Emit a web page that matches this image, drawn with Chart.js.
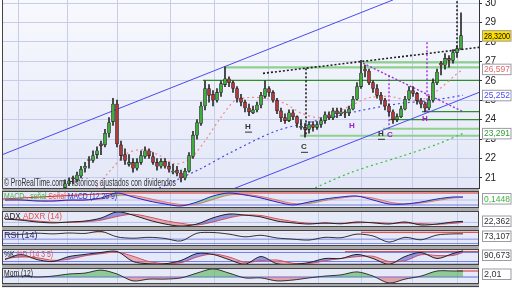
<!DOCTYPE html>
<html><head><meta charset="utf-8">
<script src="https://cdn.jsdelivr.net/npm/chart.js@4.4.1/dist/chart.umd.min.js"></script>
<style>
html,body{margin:0;padding:0;background:#fff;}
#wrap{position:relative;width:512px;height:288px;overflow:hidden;background:#fff;}
#gap{position:absolute;left:2px;top:188px;width:477px;height:100px;background:#a9a9a9;}
#last{position:absolute;left:2px;top:286px;width:477px;height:2px;background:#e6e9f8;border-top:1px solid #444;}
canvas{position:absolute;left:0;}
</style></head>
<body><div id="wrap"><div id="gap"></div><div id="last"></div>
<canvas id="cMain" width="512" height="189" style="top:0px"></canvas>
<canvas id="cMacd" width="512" height="17" style="top:191px"></canvas>
<canvas id="cAdx" width="512" height="16" style="top:211px"></canvas>
<canvas id="cRsi" width="512" height="16" style="top:230px"></canvas>
<canvas id="cSto" width="512" height="16" style="top:249px"></canvas>
<canvas id="cMom" width="512" height="16" style="top:268px"></canvas>
</div>
<script>
// ---------------- DATA ----------------
const candleOpen  = [20.5,20.7,21.0,20.9,21.1,21.5,21.95,21.9,22.2,22.75, 22.7,23.3,23.9,24.8,22.7,22.2,21.7,21.8,21.5,21.8, 22.1,22.4,22.1,21.8,21.6,21.85,21.6,21.3,21.4,21.25, 21.0,21.35,22.1,23.2,23.8,24.7,25.6,25.3,25.0,25.4, 25.8,26.1,25.9,25.6,25.1,24.9,24.6,24.35,24.5,24.75, 25.2,25.6,25.4,25.0,24.45,24.1,23.95,24.35,24.15,23.6, 23.6,23.5,23.75,23.6,23.75,23.95,24.25,24.1,24.45,24.3, 24.4,24.35,24.55,25.05,25.7,26.6,26.5,25.9,25.6,25.25, 25.0,24.7,24.4,24.0,24.15,24.55,25.05,25.5,25.35,24.98, 24.8,24.6,25.0,25.9,26.9,26.8,27.15,27.05,27.45,27.65];
const candleHigh  = [20.9,21.0,21.1,21.3,21.6,21.8,22.1,22.4,22.6,22.9, 23.5,24.1,25.1,25.0,22.9,22.5,22.2,22.0,22.0,22.4, 22.6,22.5,22.3,22.0,22.0,22.0,21.8,21.7,21.6,21.4, 21.5,22.3,23.4,24.0,24.9,26.0,25.8,25.5,25.6,26.0, 26.7,26.2,26.0,25.7,25.3,25.0,24.8,24.7,24.9,25.4, 26.0,25.7,25.5,25.1,24.6,24.3,24.5,24.5,24.2,24.0, 23.8,23.9,23.9,23.9,24.1,24.4,24.4,24.6,24.6,24.6, 24.5,24.7,25.2,25.9,27.05,26.8,26.6,26.0,25.8,25.4, 25.1,24.8,24.5,24.3,24.7,25.2,25.7,25.7,25.4,25.1, 24.9,25.2,26.1,26.6,27.0,27.4,27.3,27.6,27.8,29.5];
const candleLow   = [20.4,20.6,20.7,20.8,21.0,21.3,21.5,21.8,22.0,22.2, 22.6,23.1,23.7,22.6,21.9,21.7,21.6,21.3,21.4,21.7, 22.0,22.0,21.7,21.4,21.5,21.5,21.3,21.2,21.1,20.8, 20.9,21.3,22.0,23.0,23.7,24.5,24.9,24.7,24.9,25.2, 25.7,25.7,25.4,24.9,24.7,24.4,24.2,24.3,24.4,24.6, 25.1,25.2,24.9,24.3,23.9,23.8,23.9,24.0,23.6,23.5, 23.1,23.3,23.4,23.5,23.6,23.8,24.0,24.0,24.1,24.2, 24.1,24.2,24.5,25.0,25.6,26.2,25.8,25.4,25.1,24.8, 24.5,24.2,23.8,23.9,24.1,24.5,25.0,25.2,24.8,24.6, 24.4,24.5,24.9,25.8,26.3,26.6,26.7,26.9,27.2,27.6];
const candleClose = [20.7,20.85,20.95,21.15,21.45,21.6,21.9,22.15,22.4,22.65, 23.3,23.85,24.8,22.75,22.15,21.9,21.8,21.5,21.8,22.15, 22.4,22.15,21.8,21.6,21.85,21.6,21.45,21.35,21.25,21.0, 21.35,22.15,23.2,23.85,24.7,25.6,25.25,25.0,25.4,25.85, 26.1,25.9,25.6,25.1,24.9,24.6,24.4,24.5,24.75,25.25, 25.6,25.4,25.0,24.45,24.1,23.95,24.35,24.15,23.8,23.65, 23.5,23.75,23.6,23.75,23.95,24.25,24.1,24.45,24.3,24.4, 24.35,24.55,25.05,25.7,26.4,26.5,25.9,25.6,25.25,25.0, 24.7,24.4,24.0,24.15,24.55,25.05,25.5,25.35,24.98,24.8, 24.6,25.0,25.9,26.45,26.8,27.15,27.05,27.45,27.65,28.32];

const priceTicks = [21,22,23,24,25,26,27,28,29,30];
const gridIdx = [-11.75,0.5,13,26.25,37.25,50.75,63.25,74,86.75,98];

// moving averages (index, price)
const maPinkIdx = [5.5,11.25,15.75,20,23.75,27.5,31.25,35,38.75,42.5,46.25,50,55,58.75,63.75,68.75,72.5,76.25,81.25,86.25,90,93.75,97.5,99.5];
const maPinkVal = [19.93,21.36,22.29,22.45,22.14,21.72,21.98,22.91,24.05,24.98,25.14,25.09,24.83,24.36,24.10,24.46,24.83,25.14,25.19,24.98,25.09,25.60,26.28,26.597];
const maBlueIdx = [19,33.75,41.25,53,66.25,73.75,83.75,91.25,99.5];
const maBlueVal = [20.05,21.46,22.29,23.43,24.10,24.46,24.83,24.98,25.252];
const maGreenIdx = [58,71.25,83.75,92.75,99.5];
const maGreenVal = [20.07,21.26,22.09,22.71,23.291];

// drawn trend lines [idx1, price1, idx2, price2]
const channelUpper = [-15.75,22.19,82,30.16];
const channelLower = [40,20.27,103.5,25.40];
const neckDotted   = [49.5,26.38,103.5,27.72];
const targetV1     = [60.25,26.64,60.25,23.17];
const targetV2     = [98,30.3,98,27.57];
const purpleDiag   = [74.5,26.9,99.5,24.41];
const purpleV1     = [81,26.28,81,23.53];
const purpleV2     = [90.5,27.98,90.5,24.36];
// horizontal supports [fromIdx, price, strong(1)/soft(0)]
const levels = [[34.5,26.02,1],[39.75,26.69,0],[74.5,26.95,0],[89.25,24.41,1],[81,24.0,1],[79.5,23.53,0],[58.75,23.17,0]];
const annotations = [
  {x:45.75,y:23.64,t:'H',c:'#333',u:true},
  {x:59.75,y:22.6,t:'C',c:'#333',u:true},
  {x:71.75,y:23.69,t:'H',c:'#9a20c8',u:false},
  {x:79,y:23.27,t:'H',c:'#333',u:true},
  {x:81.2,y:23.2,t:'C',c:'#9a20c8',u:false},
  {x:90,y:24.05,t:'H',c:'#9a20c8',u:false}
];
const lastClose = 28.32;

// indicator panels
const subIdx = [-15,-11,-7,-3,1,5,9,13,17,21,25,29,33,37,41,45,49,53,57,61,65,69,73,77,81,85,89,93,97,99.5];
const macdLine   = [0.0,0.0,-0.1,-0.1,0.0,0.0,0.2,0.7,0.3,-0.1,-0.4,-0.6,-0.2,0.4,0.7,0.5,0.2,-0.2,-0.5,-0.2,0.1,0.3,0.4,0.0,-0.4,-0.4,-0.2,0.1,0.3,0.3];
const macdSignal = [0.0,0.0,-0.05,-0.1,-0.05,0.0,0.1,0.45,0.45,0.15,-0.2,-0.45,-0.4,0.05,0.5,0.55,0.35,0.0,-0.35,-0.35,-0.05,0.2,0.35,0.2,-0.2,-0.4,-0.3,-0.05,0.2,0.25];
const macdTopIdx = [-15.75,13,103.5];
const macdTopVal = [0.1,0.7,0.7];
const macdHistLast = 0.1448;
const adxVal  = [27.5,25,21,19,21,23,29.5,43,36,25,16.6,12,16.5,30,38.4,36,32,23,19,16.5,19,17,21,19,16.5,21,14.4,16.5,21,22.362];
const adxrVal = [27,26.5,23,20.5,20,21.5,25,33,38,32,24,18,14.5,21,30,36,35,28,22,18,17.5,18,19,20,18,18.5,17.5,16,18,20];
const rsiVal  = [72,71,76,73,77,75,84,60,54,58,53,42,76,79,72,60,67,55,50,46,58,56,72,64,37,58,47,68,73,73.107];
const stoK    = [33,67,33,20,53,67,80,87,20,5,5,27,73,67,33,2,53,5,2,13,40,40,67,40,2,53,80,40,73,90.673];
const stoD    = [40,50,45,28,35,58,72,82,55,20,6,12,50,70,50,15,25,30,8,6,25,40,52,55,20,25,65,60,60,80];
const momVal  = [0,0.3,0,0.3,1.0,1.3,2.3,1.0,-1.3,-0.7,-0.7,-0.3,1.3,2.7,1.3,-0.3,-0.3,-1.3,-1.0,-0.3,0.3,0.7,1.7,0.3,-2.0,-0.7,0.3,2.0,2.0,2.01];

// ---------------- RENDER ----------------
const FONT = '"Liberation Sans", Arial, sans-serif';
const X_MIN = -15.75, X_MAX = 103.5;
const fmt = (v,d) => v.toFixed(d).replace('.', ',');

function xScale(){
  return {type:'linear', min:X_MIN, max:X_MAX, offset:false,
    ticks:{display:false}, grid:{color:'#c6cde8', drawTicks:false, offset:false}, border:{display:false},
    afterBuildTicks: s => { s.ticks = gridIdx.map(v => ({value:v})); },
    afterFit: s => { s.height = 0; s.paddingLeft = 0; s.paddingRight = 0; }};
}
function seg(a, color, width, dash){
  return {type:'line', data:[{x:a[0],y:a[1]},{x:a[2],y:a[3]}], borderColor:color, borderWidth:width,
    borderDash:dash||[], pointRadius:0, fill:false, tension:0};
}
function curve(xs, ys, color, width, dash, extra){
  return Object.assign({type:'line', data:xs.map((x,i)=>({x, y:ys[i]})), borderColor:color, borderWidth:width,
    borderDash:dash||[], pointRadius:0, fill:false, tension:0.3}, extra||{});
}
function drawTag(ctx, y, text, color, bg, h){
  ctx.save();
  let cy = y;
  if (h) cy = Math.max(6, Math.min(h-6, y));
  ctx.fillStyle = bg; ctx.fillRect(482, cy-5.5, 29, 11);
  ctx.strokeStyle = '#9a9aa8'; ctx.lineWidth = 1; ctx.strokeRect(482.5, cy-5, 28.5, 10.5);
  ctx.font = '9px ' + FONT; ctx.fillStyle = color; ctx.textBaseline = 'middle';
  ctx.fillText(text, 484, cy+0.5, 26);
  ctx.restore();
}
function drawFitted(ctx, segs, x, y, size, targetW){
  ctx.save(); ctx.font = size + 'px ' + FONT;
  let total = 0; segs.forEach(s => total += ctx.measureText(s[0]).width);
  const k = Math.min(1, targetW/total);
  ctx.translate(x, y); ctx.scale(k, 1); ctx.textBaseline = 'middle';
  let cx = 0;
  segs.forEach(s => { ctx.fillStyle = s[1]; ctx.fillText(s[0], cx, 0); cx += ctx.measureText(s[0]).width; });
  ctx.restore();
}

// ---- main chart ----
const upCol = '#3fae3f', dnCol = '#b03a3a';
const mainDatasets = [
  {type:'bar', data:candleClose.map((c,i)=>({x:i, y:[candleOpen[i], c]})), grouped:false, barThickness:3,
    backgroundColor: ctx => candleClose[ctx.dataIndex] >= candleOpen[ctx.dataIndex] ? upCol : dnCol,
    borderColor:'#1c1c1c', borderWidth:0.6, borderSkipped:false},
  {type:'bar', data:candleClose.map((c,i)=>({x:i, y:[candleLow[i], candleHigh[i]]})), grouped:false, barThickness:1,
    backgroundColor:'#2a2a2a', borderWidth:0},
  curve(maPinkIdx, maPinkVal, '#f08a8a', 1.2, [2,3]),
  curve(maBlueIdx, maBlueVal, '#4646ee', 1.2, [2,3]),
  curve(maGreenIdx, maGreenVal, '#3cc03c', 1.2, [2,3]),
  seg(channelUpper, '#4a4af0', 1),
  seg(channelLower, '#4a4af0', 1),
  seg(neckDotted, '#202020', 1.6, [2,2]),
  seg(targetV1, '#202020', 1.6, [2,2]),
  seg(targetV2, '#202020', 1.6, [2,2]),
  seg(purpleDiag, '#a030d8', 1.4, [2,2]),
  seg(purpleV1, '#a030d8', 1.4, [2,2]),
  seg(purpleV2, '#a030d8', 1.4, [2,2])
];
levels.forEach(l => mainDatasets.push(seg([l[0], l[1], X_MAX, l[1]], l[2] ? '#2f8f2f' : '#8fd08f', l[2] ? 1.2 : 2.2)));

const mainDeco = {
  id:'mainDeco',
  beforeDraw(chart){
    const {ctx, chartArea:a} = chart;
    ctx.save(); ctx.fillStyle = '#fff'; ctx.fillRect(0,0,chart.width,chart.height);
    const g = ctx.createLinearGradient(0, a.top, 0, a.bottom);
    g.addColorStop(0, '#f8f9fe'); g.addColorStop(1, '#e3e7f7');
    ctx.fillStyle = g; ctx.fillRect(a.left, a.top, a.right-a.left, a.bottom-a.top);
    ctx.restore();
  },
  afterDatasetsDraw(chart){
    const {ctx} = chart, xs = chart.scales.x, ys = chart.scales.y;
    ctx.save();
    ctx.font = 'bold 8px ' + FONT; ctx.textAlign = 'center'; ctx.textBaseline = 'middle';
    annotations.forEach(an => {
      const px = xs.getPixelForValue(an.x), py = ys.getPixelForValue(an.y);
      ctx.fillStyle = an.c; ctx.fillText(an.t, px, py);
      if (an.u){ ctx.fillRect(px-3, py+5, 7, 1); }
    });
    ctx.restore();
    drawFitted(ctx, [['© ProRealTime.com  Históricos ajustados con dividendos', '#333']], 4, chart.chartArea.bottom-6, 10, 172);
  },
  afterDraw(chart){
    const {ctx, chartArea:a} = chart, ys = chart.scales.y;
    ctx.save(); ctx.strokeStyle = '#444'; ctx.lineWidth = 1;
    ctx.beginPath(); ctx.moveTo(a.left+0.5, a.top); ctx.lineTo(a.left+0.5, a.bottom-0.5); ctx.lineTo(a.right, a.bottom-0.5); ctx.stroke();
    ctx.restore();
    drawTag(ctx, ys.getPixelForValue(maGreenVal[maGreenVal.length-1]), fmt(maGreenVal[maGreenVal.length-1],3), '#2f9f2f', '#fff');
    drawTag(ctx, ys.getPixelForValue(maBlueVal[maBlueVal.length-1]), fmt(maBlueVal[maBlueVal.length-1],3), '#4b4bf0', '#fff');
    drawTag(ctx, ys.getPixelForValue(maPinkVal[maPinkVal.length-1]), fmt(maPinkVal[maPinkVal.length-1],3), '#e06a6a', '#fff');
    drawTag(ctx, ys.getPixelForValue(lastClose), fmt(lastClose,4), '#000', '#ffe100');
  }
};

new Chart(document.getElementById('cMain'), {
  type:'bar',
  data:{datasets:mainDatasets},
  options:{responsive:false, animation:false, events:[],
    layout:{padding:{left:2, right:0, top:0, bottom:0}},
    plugins:{legend:{display:false}, tooltip:{enabled:false}},
    scales:{
      x:xScale(),
      y:{position:'right', min:20.43, max:30.155,
        afterBuildTicks: s => { s.ticks = priceTicks.map(v => ({value:v})); },
        ticks:{color:'#222', font:{family:'Liberation Sans', size:10}, padding:3},
        grid:{color:'#c6cde8', tickColor:'#333', tickLength:3},
        border:{display:true, color:'#333', width:1},
        afterFit: s => { s.width = 33; s.paddingTop = 0; s.paddingBottom = 0; }}
    }},
  plugins:[mainDeco]
});

// ---- indicator panels ----
function panel(id, yMin, yMax, datasets, legend, legendW, tag){
  const cv = document.getElementById(id);
  new Chart(cv, {
    type:'line',
    data:{datasets},
    options:{responsive:false, animation:false, events:[],
      layout:{padding:{left:2, right:33, top:0, bottom:0}},
      plugins:{legend:{display:false}, tooltip:{enabled:false}},
      scales:{x:xScale(), y:{display:false, min:yMin, max:yMax}}},
    plugins:[{
      id:'pd'+id,
      beforeDraw(c){ const {ctx, chartArea:a} = c; ctx.save(); ctx.fillStyle = '#fff'; ctx.fillRect(a.right,0,c.width-a.right,c.height);
        ctx.fillStyle = '#e6e9f8'; ctx.fillRect(a.left, a.top, a.right-a.left, a.bottom-a.top); ctx.restore(); },
      afterDatasetsDraw(c){ drawFitted(c.ctx, legend, c.chartArea.left+2, 6, 9, legendW); },
      afterDraw(c){ const {ctx, chartArea:a} = c; ctx.save(); ctx.strokeStyle = '#444'; ctx.lineWidth = 1;
        ctx.strokeRect(a.left+0.5, a.top+0.5, a.right-a.left-1, a.bottom-a.top-1); ctx.restore();
        drawTag(ctx, c.scales.y.getPixelForValue(tag.v), tag.t, tag.c, '#fff', c.height); }
    }]
  });
}
const lvl = (v, color, w, from) => seg([from===undefined ? X_MIN : from, v, X_MAX, v], color, w||1);
const fillAB = (up, dn) => ({target:'+1', above:up, below:dn});

panel('cMacd', -0.8, 0.9, [
  curve(subIdx, macdLine, '#2323d0', 1, [], {fill:fillAB('rgba(70,185,70,0.5)','rgba(235,120,120,0.5)')}),
  curve(subIdx, macdSignal, '#e87474', 1),
  curve(macdTopIdx, macdTopVal, '#e02828', 1, [], {tension:0}),
  lvl(-0.5, '#6f7fe6', 1),
  lvl(0.0, '#b8c0ee', 1)
], [['MACD-, señal ','#3cb33c'],['Señal ','#e05a5a'],['MACD (12 26 9)','#3030c0']], 113,
  {v:macdHistLast, t:fmt(macdHistLast,4), c:'#3cb33c'});

panel('cAdx', 10, 45, [
  curve(subIdx, adxVal, '#222', 1, [], {fill:fillAB('rgba(80,80,205,0.55)','rgba(232,112,112,0.5)')}),
  curve(subIdx, adxrVal, '#e05050', 1),
  lvl(20, '#b8c0ee', 1)
], [['ADX ','#222'],['ADXR (14)','#e05050']], 58,
  {v:adxVal[adxVal.length-1], t:fmt(adxVal[adxVal.length-1],3), c:'#333'});

panel('cRsi', 20, 90, [
  curve(subIdx, rsiVal, '#333', 1, [], {fill:{value:76, above:'rgba(232,112,112,0.55)', below:'rgba(0,0,0,0)'}}),
  lvl(50, '#7d8ae6', 1),
  lvl(31, '#7d8ae6', 1),
  lvl(80, '#e02828', 1, 74)
], [['RSI (14)','#2a2a7a']], 43,
  {v:rsiVal[rsiVal.length-1], t:fmt(rsiVal[rsiVal.length-1],3), c:'#333'});

panel('cSto', -3, 103, [
  curve(subIdx, stoK, '#222', 1, [], {fill:fillAB('rgba(80,80,205,0.55)','rgba(232,112,112,0.5)')}),
  curve(subIdx, stoD, '#e05050', 1),
  lvl(80, '#6f7fe6', 1),
  lvl(20, '#6f7fe6', 1),
  lvl(0, '#3030c0', 1.4),
  lvl(85, '#e02828', 1, 70)
], [['%K ','#222'],['%D (14 3 5)','#e05050']], 49,
  {v:stoK[stoK.length-1], t:fmt(stoK[stoK.length-1],3), c:'#333'});

panel('cMom', -2.33, 3.0, [
  curve(subIdx, momVal, '#333', 1, [], {fill:{value:0, above:'rgba(70,175,70,0.55)', below:'rgba(222,105,105,0.55)'}}),
  lvl(0, '#5a6ae0', 1),
  lvl(2.0, '#e02828', 1, 98)
], [['Mom (12)','#222']], 29,
  {v:momVal[momVal.length-1], t:fmt(momVal[momVal.length-1],2), c:'#333'});
</script>
</body></html>
